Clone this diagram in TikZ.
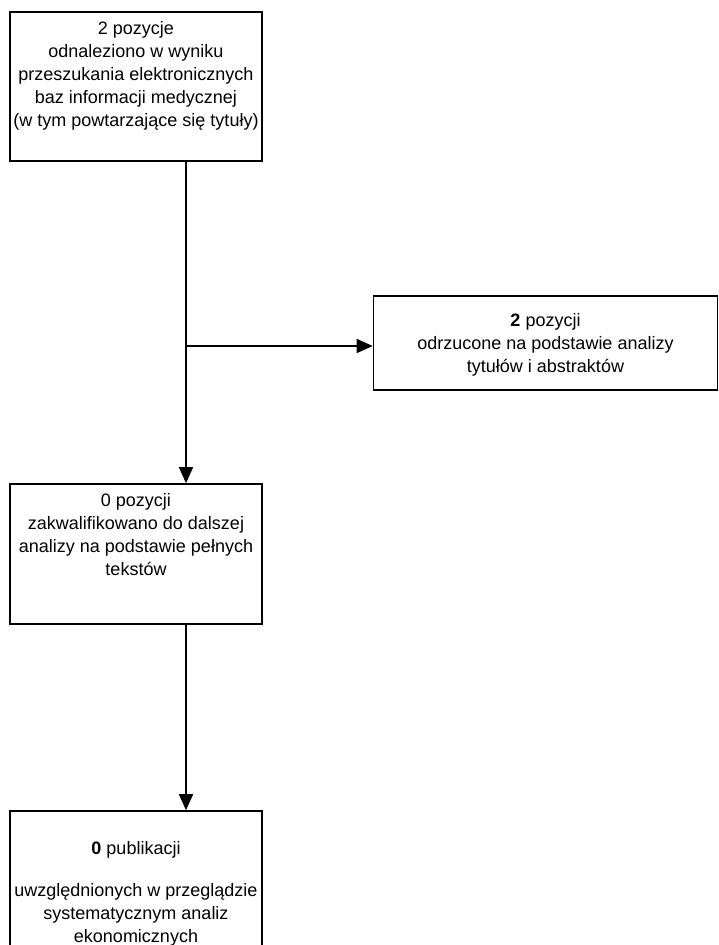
\documentclass[tikz,border=0pt]{standalone}
\usepackage{fontspec}
\setmainfont{Liberation Sans}
\usetikzlibrary{arrows.meta}
\begin{document}
\begin{tikzpicture}[x=1pt,y=-1pt,
  boxshape/.style={draw, line width=1.6pt, rectangle, inner sep=0pt},
  txt/.style={align=center, font=\fontsize{18}{23}\selectfont, inner sep=0pt, anchor=north},
  arr/.style={-{Triangle[length=16pt,width=14pt]}, line width=1.6pt}]
\useasboundingbox (0,0) rectangle (718,945);
\clip (0,0) rectangle (718,945);
% boxes
\node[boxshape, minimum width=252pt, minimum height=149pt] (b1) at (136,86.5) {};
\node[boxshape, minimum width=344pt, minimum height=94pt] (b2) at (545.5,343) {};
\node[boxshape, minimum width=252pt, minimum height=140pt] (b3) at (136,554) {};
\node[boxshape, minimum width=252pt, minimum height=160pt] (b4) at (136,891) {};
% texts
\node[txt] (t1) at (136,21) {2 pozycje\\odnaleziono w wyniku\\przeszukania elektronicznych\\baz informacji medycznej\\(w tym powtarzające się tytuły)};
\node[txt] (t2) at (545.5,313) {\textbf{2} pozycji\\odrzucone na podstawie analizy\\tytułów i abstraktów};
\node[txt] (t3) at (136,493) {0 pozycji\\zakwalifikowano do dalszej\\analizy na podstawie pełnych\\tekstów};
\node[txt] (t4) at (136,841) {\textbf{0} publikacji\\[19pt]uwzględnionych w przeglądzie\\systematycznym analiz\\ekonomicznych};
% connectors
\coordinate (cx) at (186,0);
\coordinate (br) at (186,346);
\draw[arr] (b1.south -| cx) -- (b3.north -| cx);
\draw[arr] (br) -- (br -| b2.west);
\draw[arr] (b3.south -| cx) -- (b4.north -| cx);
\end{tikzpicture}
\end{document}
